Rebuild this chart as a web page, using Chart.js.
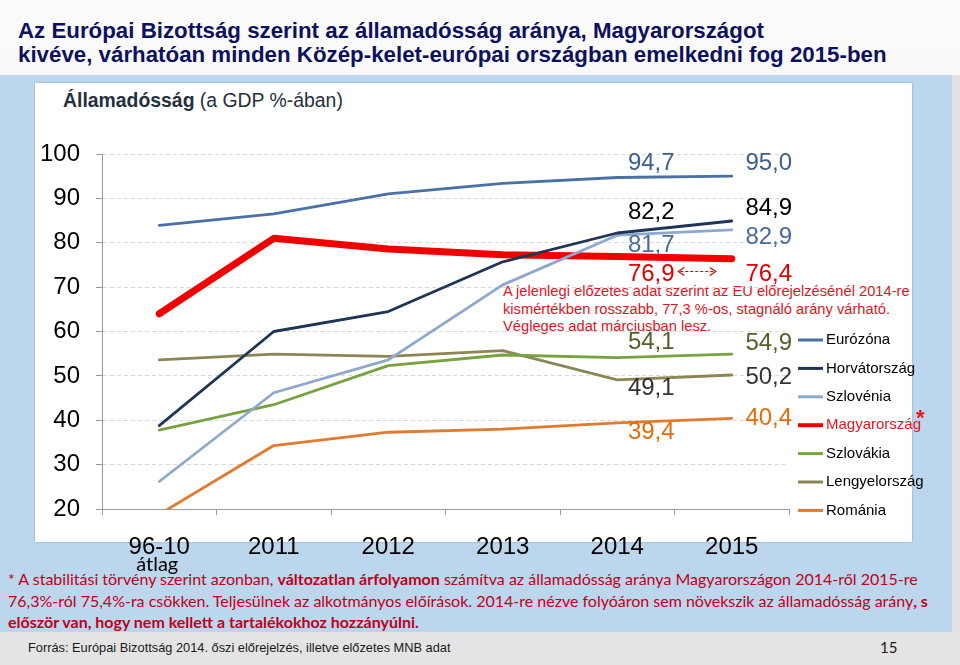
<!DOCTYPE html>
<html>
<head>
<meta charset="utf-8">
<script src="https://cdn.jsdelivr.net/npm/chart.js@4.4.1/dist/chart.umd.min.js"></script>
<style>
  body { margin: 0; width: 960px; height: 665px; position: relative; overflow: hidden;
         background: linear-gradient(#fbfbfb, #efefef); font-family: 'Liberation Sans', Arial, sans-serif; }
  #panel { position: absolute; left: 0; top: 75px; width: 952px; height: 557px; background: #bcd6ee; }
  #strip { position: absolute; left: 952px; top: 75px; width: 8px; height: 557px; background: #e2e2e2; }
  #box { position: absolute; left: 35px; top: 83px; width: 877px; height: 459px; background: #fff;
         box-shadow: 0 0 2px rgba(60, 90, 130, .45); }
  #footer { position: absolute; left: 0; top: 632px; width: 960px; height: 33px; background: #e4e4e4; }
  #title { position: absolute; left: 18px; top: 19px; font-weight: bold; font-size: 22.3px; line-height: 24px;
           color: #0c1160; white-space: nowrap; }
  #subtitle { position: absolute; left: 63px; top: 90px; font-size: 19.4px; line-height: 20px; color: #26303c; }
  #note { position: absolute; left: 503px; top: 283px; font-size: 14.7px; line-height: 17.5px; color: #e0141e;
          white-space: nowrap; z-index: 1; }
  #foot { position: absolute; left: 8px; top: 568px; font-family: Lato, 'Open Sans', sans-serif; font-size: 16px;
          line-height: 21.5px; color: #c00018; white-space: nowrap; }
  #source { position: absolute; left: 28px; top: 640px; font-size: 12.8px; line-height: 16px; color: #1a1a1a; }
  #page { position: absolute; left: 880px; top: 638px; font-family: Lato, sans-serif; font-size: 15px; color: #1a1a1a; }
  #chart { position: absolute; left: 0; top: 0; z-index: 2; }
</style>
</head>
<body>
<div id="panel"></div>
<div id="strip"></div>
<div id="footer"></div>
<div id="box"></div>
<div id="title">Az Európai Bizottság szerint az államadósság aránya, Magyarországot<br>kivéve, várhatóan minden Közép-kelet-európai országban emelkedni fog 2015-ben</div>
<div id="subtitle"><b>Államadósság</b> (a GDP %-ában)</div>
<div id="note">A jelenlegi előzetes adat szerint az EU előrejelzésénél 2014-re<br>kismértékben rosszabb, 77,3 %-os, stagnáló arány várható.<br>Végleges adat márciusban lesz.</div>
<div id="foot">* A stabilitási törvény szerint azonban, <b>változatlan árfolyamon</b> számítva az államadósság aránya Magyarországon 2014-ről 2015-re<br>76,3%-ról 75,4%-ra csökken. Teljesülnek az alkotmányos előírások. 2014-re nézve folyóáron sem növekszik az államadósság arány<b>, s</b><br><b>először van, hogy nem kellett a tartalékokhoz hozzányúlni.</b></div>
<div id="source">Forrás: Európai Bizottság 2014. őszi előrejelzés, illetve előzetes MNB adat</div>
<div id="page">15</div>
<canvas id="chart" width="960" height="665"></canvas>
<script>
const categories = ['96-10', '2011', '2012', '2013', '2014', '2015'];
const firstCategoryNote = 'átlag';
const yTicks = [20, 30, 40, 50, 60, 70, 80, 90, 100];

const seriesNames = ['Eurózóna', 'Horvátország', 'Szlovénia', 'Magyarország', 'Szlovákia', 'Lengyelország', 'Románia'];
const eurozone = [83.9, 86.5, 91.0, 93.4, 94.7, 95.0];
const croatia = [38.8, 60.0, 64.5, 75.7, 82.2, 84.9];
const slovenia = [26.2, 46.2, 53.6, 70.5, 81.7, 82.9];
const hungary = [64.0, 81.0, 78.6, 77.3, 76.9, 76.4];
const slovakia = [37.8, 43.5, 52.3, 54.7, 54.1, 54.9];
const poland = [53.6, 54.9, 54.4, 55.7, 49.1, 50.2];
const romania = [18.8, 34.3, 37.3, 38.0, 39.4, 40.4];

// which points get a value label (2014, 2015)
const labelledIdx = [4, 5];

const lineColors = ['#4a70a6', '#1f3556', '#8fa8ce', '#f20000', '#78a23f', '#8c8655', '#e07b30'];
const textColors = ['#3e5f8f', '#000000', '#4a6a9a', '#e00000', '#4f6228', '#333333', '#e46c0a'];
// label offsets from the point: [dx, dy] for 2014 and 2015
const labelShift = [
  [[34, -14], [37, -13]],
  [[34, -21], [37, -13]],
  [[34, 10], [37, 7]],
  [[34, 18], [37, 16]],
  [[34, -15], [37, -11]],
  [[34, 9], [37, 2]],
  [[34, 9], [37, 0]]
];

const allSeries = [eurozone, croatia, slovenia, hungary, slovakia, poland, romania];

const datasets = allSeries.map((vals, i) => ({
  label: seriesNames[i],
  data: vals,
  borderColor: lineColors[i],
  backgroundColor: lineColors[i],
  borderWidth: i === 3 ? 7 : 2.8,
  borderCapStyle: 'round',
  borderJoinStyle: 'round',
  pointRadius: 0,
  tension: 0,
  fill: false
}));

const fmt = v => v.toFixed(1).replace('.', ',');

const extras = {
  id: 'extras',
  afterDatasetsDraw(chart) {
    const c = chart.ctx, xs = chart.scales.x, ys = chart.scales.y;
    c.save();
    // value labels
    c.font = '24px "Liberation Sans", Arial, sans-serif';
    c.textAlign = 'center';
    c.textBaseline = 'middle';
    chart.data.datasets.forEach((ds, i) => {
      labelledIdx.forEach((idx, k) => {
        const [dx, dy] = labelShift[i][k];
        c.fillStyle = textColors[i];
        c.fillText(fmt(ds.data[idx]), xs.getPixelForValue(idx) + dx, ys.getPixelForValue(ds.data[idx]) + dy);
      });
    });
    // dashed double arrow between the two Hungarian labels
    const hy = ys.getPixelForValue(hungary[4]) + 15;
    const ax1 = xs.getPixelForValue(4) + 61, ax2 = xs.getPixelForValue(5) - 16;
    c.strokeStyle = '#e00000';
    c.lineWidth = 1.2;
    c.setLineDash([3, 2]);
    c.beginPath(); c.moveTo(ax1 + 2, hy); c.lineTo(ax2 - 2, hy); c.stroke();
    c.setLineDash([]);
    c.beginPath();
    c.moveTo(ax1 + 6, hy - 4); c.lineTo(ax1, hy); c.lineTo(ax1 + 6, hy + 4);
    c.moveTo(ax2 - 6, hy - 4); c.lineTo(ax2, hy); c.lineTo(ax2 - 6, hy + 4);
    c.stroke();
    // sub label under the first category
    c.fillStyle = '#000';
    c.font = '20px Lato, sans-serif';
    c.textBaseline = 'alphabetic';
    c.fillText(firstCategoryNote, xs.getPixelForValue(0) - 2, 571);
    // legend
    c.textAlign = 'left';
    c.textBaseline = 'middle';
    c.font = '15px "Liberation Sans", Arial, sans-serif';
    chart.data.datasets.forEach((ds, i) => {
      const y = 340 + i * 28.4;
      c.strokeStyle = ds.borderColor;
      c.lineWidth = i === 3 ? 4 : 3;
      c.beginPath(); c.moveTo(798, y); c.lineTo(823, y); c.stroke();
      c.fillStyle = i === 3 ? '#e8141e' : '#000';
      c.fillText(ds.label, 826, y);
      if (i === 3) {
        c.font = 'bold 22px "Liberation Sans", Arial, sans-serif';
        c.fillText('*', 916, y - 6);
        c.font = '15px "Liberation Sans", Arial, sans-serif';
      }
    });
    c.restore();
  }
};

new Chart(document.getElementById('chart'), {
  type: 'line',
  data: { labels: categories, datasets: datasets },
  plugins: [extras],
  options: {
    responsive: false,
    animation: false,
    devicePixelRatio: 1,
    layout: { padding: { left: 0, right: 171, top: 154, bottom: 96 } },
    plugins: { legend: { display: false }, tooltip: { enabled: false } },
    scales: {
      x: {
        offset: true,
        afterFit: s => { s.height = 60; },
        grid: { offset: true, drawOnChartArea: false, drawTicks: true, tickLength: 6, color: '#9a9a9a' },
        border: { color: '#9a9a9a' },
        ticks: { color: '#000', padding: 18, font: { size: 24, family: '"Liberation Sans", Arial, sans-serif' }, maxRotation: 0 }
      },
      y: {
        min: 20,
        max: 100,
        afterFit: s => { s.width = 102; },
        afterBuildTicks: s => { s.ticks = yTicks.map(v => ({ value: v })); },
        grid: { color: '#d9d9d9', tickColor: '#9a9a9a', tickLength: 6 },
        border: { color: '#9a9a9a', dash: [4, 3] },
        ticks: { color: '#000', padding: 16, font: { size: 24, family: '"Liberation Sans", Arial, sans-serif' } }
      }
    }
  }
});
</script>
</body>
</html>
